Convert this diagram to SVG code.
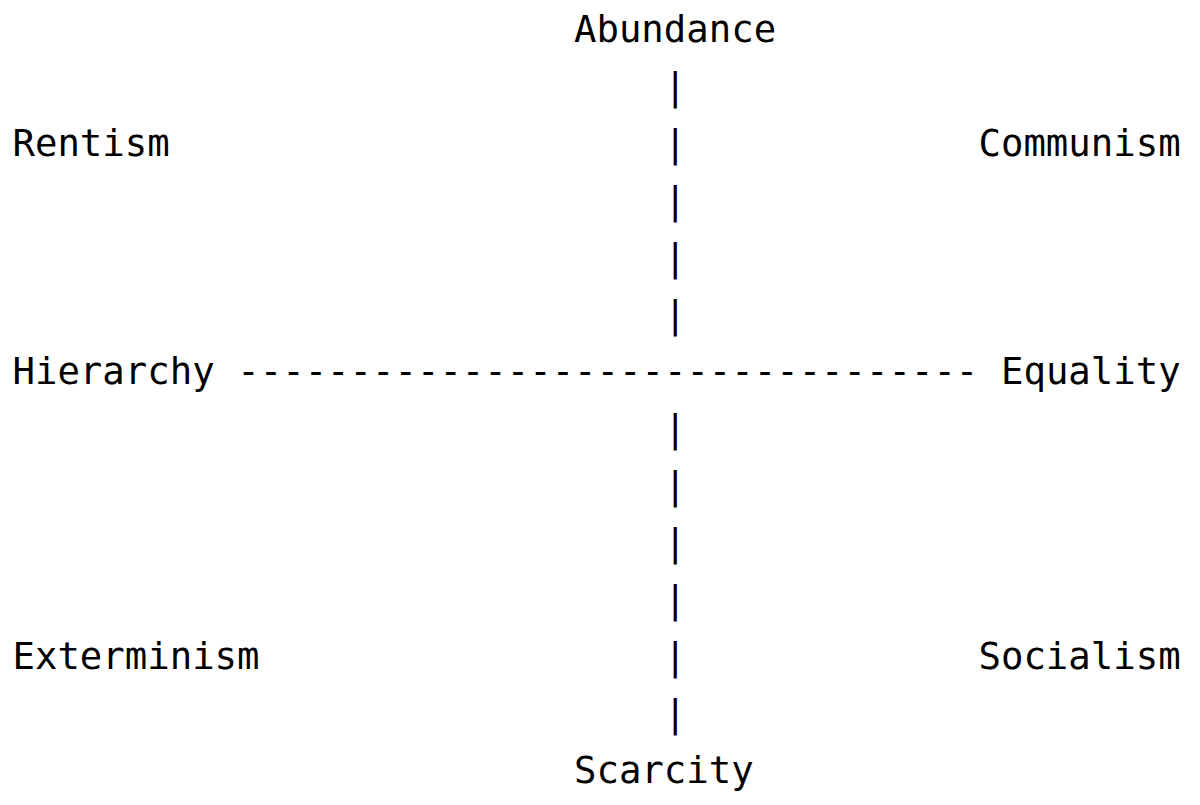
<svg xmlns="http://www.w3.org/2000/svg" width="1200" height="805" viewBox="0 0 1200 805">
  <style>
    text { font-family: "DejaVu Sans Mono", "Liberation Mono", monospace; font-size: 37.3px; fill: #000; white-space: pre; }
  </style>
  <rect width="1200" height="805" fill="#fff"/>
  <g id="connectors">
    <text x="664" y="98.5">|</text>
    <text x="664" y="155.5">|</text>
    <text x="664" y="212.5">|</text>
    <text x="664" y="269.5">|</text>
    <text x="664" y="326.5">|</text>
    <text x="237.3" y="383.5">---------------------------------</text>
    <text x="664" y="440.5">|</text>
    <text x="664" y="497.5">|</text>
    <text x="664" y="554.5">|</text>
    <text x="664" y="611.5">|</text>
    <text x="664" y="668.5">|</text>
    <text x="664" y="725.5">|</text>
  </g>
  <g id="abundance"><text x="574" y="41.5">Abundance</text></g>
  <g id="rentism"><text x="12.5" y="155.5">Rentism</text></g>
  <g id="communism"><text x="978.5" y="155.5">Communism</text></g>
  <g id="hierarchy"><text x="12.5" y="383.5">Hierarchy</text></g>
  <g id="equality"><text x="1001" y="383.5">Equality</text></g>
  <g id="exterminism"><text x="12.5" y="668.5">Exterminism</text></g>
  <g id="socialism"><text x="978.5" y="668.5">Socialism</text></g>
  <g id="scarcity"><text x="574" y="782.5">Scarcity</text></g>
</svg>
